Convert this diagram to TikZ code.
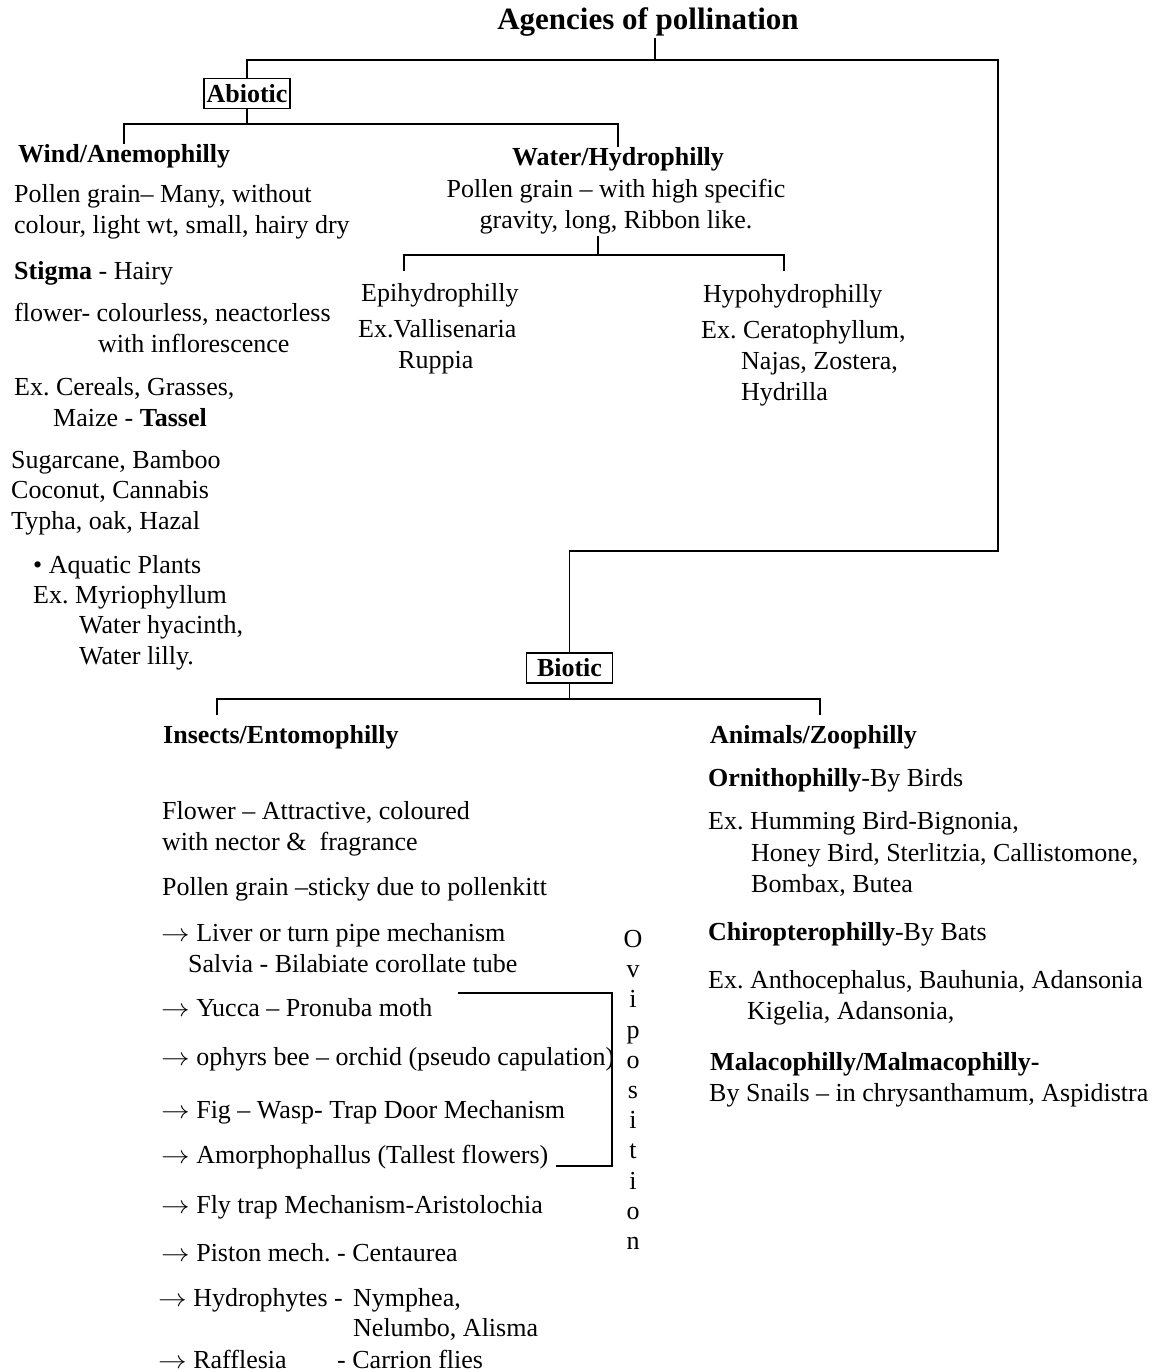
\documentclass[tikz,border=0pt]{standalone}
\usepackage{fontspec}
\setmainfont{Liberation Serif}
\usepackage{graphicx}
\usepackage{tikz}
\frenchspacing
\newcommand{\bodyfont}{\fontsize{26}{31}\selectfont}
\newcommand{\arr}{\scalebox{1.15}[1]{$\rightarrow$}}
\tikzset{txt/.style={anchor=base west, inner sep=1pt, font=\bodyfont},
 head/.style={txt, font=\bodyfont\bfseries},
 ctr/.style={txt, anchor=base},
 box/.style={draw, line width=1.5pt, inner sep=2pt, minimum width=86pt, minimum height=30pt, font=\bodyfont\bfseries},
 link/.style={draw, line width=1.5pt},
 }

\begin{document}
\begin{tikzpicture}[x=1pt, y=-1pt]
        \useasboundingbox (0,0) rectangle (1155,1372);

        % top of the tree
        \node[ctr, font=\fontsize{31}{34}\selectfont\bfseries] (title) at (648,30) {Agencies of pollination};
        \node[box] (abiotic) at (247,93.5) {Abiotic};
        \node[box] (biotic) at (569.5,668) {Biotic};
        \coordinate (top) at (655,60);
        \coordinate (rc) at (998,551);
        \draw[link] (title.south -| top) -- (top);
        \draw[link] (abiotic) |- (top) -| (rc) -| (biotic);

        % abiotic
        \node[head] (wind) at (17,163) {Wind/Anemophilly};
        \node[txt] (windA) at (13,203) {Pollen grain– Many, without};
        \node[txt] (windB) at (13,234) {colour, light wt, small, hairy dry};
        \node[txt] (stigma) at (13,279) {\textbf{Stigma} - Hairy};
        \node[txt] (flw) at (13,321) {flower- colourless, neactorless};
        \node[txt] (flwB) at (97,352) {with inflorescence};
        \node[txt] (exA) at (13,395) {Ex. Cereals, Grasses,};
        \node[txt] (exB) at (52,426) {Maize - \textbf{Tassel}};
        \node[txt] (sug) at (10,468) {Sugarcane, Bamboo};
        \node[txt] (coc) at (10,498) {Coconut, Cannabis};
        \node[txt] (typ) at (10,529) {Typha, oak, Hazal};
        \node[txt] (aqu) at (32,573) {• Aquatic Plants};
        \node[txt] (myr) at (32,603) {Ex. Myriophyllum};
        \node[txt] (hya) at (78,633) {Water hyacinth,};
        \node[txt] (lil) at (78,664) {Water lilly.};

        \node[ctr, font=\bodyfont\bfseries] (water) at (618,166) {Water/Hydrophilly};
        \node[ctr] (waterA) at (616,198) {Pollen grain – with high specific};
        \node[ctr] (waterB) at (616,229) {gravity, long, Ribbon like.};
        \coordinate (ab) at (247,124);
        \draw[link] (abiotic) -- (ab);
        \draw[link] (wind.north) |- (ab) -| (water.north);

        \node[txt] (epi) at (360,301) {Epihydrophilly};
        \node[txt] (epiA) at (357,337) {Ex.Vallisenaria};
        \node[txt] (epiB) at (397,368) {Ruppia};
        \node[txt] (hypo) at (702,302) {Hypohydrophilly};
        \node[txt] (hypoA) at (700,338) {Ex. Ceratophyllum,};
        \node[txt] (hypoB) at (740,369) {Najas, Zostera,};
        \node[txt] (hypoC) at (740,400) {Hydrilla};
        \coordinate (wb) at (598,255);
        \coordinate (el) at (404,271);
        \coordinate (hr) at (784,271);
        \draw[link] (waterB.south -| wb) -- (wb);
        \draw[link] (el) |- (wb) -| (hr);

        % biotic
        \node[head] (insect) at (162,743) {Insects/Entomophilly};
        \node[head] (anim) at (709,743) {Animals/Zoophilly};
        \coordinate (bb) at (569.5,699);
        \coordinate (il) at (217,715);
        \coordinate (ar) at (820,715);
        \draw[link] (biotic) -- (bb);
        \draw[link] (il) |- (bb) -| (ar);

        \node[txt] (flA) at (161,819) {Flower – Attractive, coloured};
        \node[txt] (flB) at (161,850) {with nector \&~ fragrance};
        \node[txt] (pg) at (161,895) {Pollen grain –sticky due to pollenkitt};
        \node[txt] (liv) at (160,941) {\arr{} Liver or turn pipe mechanism};
        \node[txt] (sal) at (187,972) {Salvia - Bilabiate corollate tube};
        \node[txt] (yuc) at (160,1016) {\arr{} Yucca – Pronuba moth};
        \node[txt] (oph) at (160,1065) {\arr{} ophyrs bee – orchid (pseudo capulation)};
        \node[txt] (fig) at (160,1118) {\arr{} Fig – Wasp- Trap Door Mechanism};
        \node[txt] (amo) at (160,1163) {\arr{} Amorphophallus (Tallest flowers)};
        \node[txt] (fly) at (160,1213) {\arr{} Fly trap Mechanism-Aristolochia};
        \node[txt] (pis) at (160,1261) {\arr{} Piston mech. - Centaurea};
        \node[txt] (hyd) at (157,1306) {\arr{} Hydrophytes -};
        \node[txt] (nym) at (352,1306) {Nymphea,};
        \node[txt] (nel) at (352,1336) {Nelumbo, Alisma};
        \node[txt] (raf) at (157,1368) {\arr{} Rafflesia};
        \node[txt] (car) at (336,1368) {- Carrion flies};

        \coordinate (brk) at (612,1080);
        \draw[link, line width=1.3pt] (458,993) -| (brk) |- (556,1166);
        \node[anchor=north, inner sep=0pt, align=center, font=\fontsize{26}{30.2}\selectfont] (ovi) at (633,930)
            {O\\v\\i\\p\\o\\s\\i\\t\\i\\o\\n};

        \node[txt] (orn) at (707,786) {\textbf{Ornithophilly}-By Birds};
        \node[txt] (ornA) at (707,829) {Ex. Humming Bird-Bignonia,};
        \node[txt] (ornB) at (750,861) {Honey Bird, Sterlitzia, Callistomone,};
        \node[txt] (ornC) at (750,892) {Bombax, Butea};
        \node[txt] (chi) at (707,940) {\textbf{Chiropterophilly}-By Bats};
        \node[txt] (chiA) at (707,988) {Ex. Anthocephalus, Bauhunia, Adansonia};
        \node[txt] (chiB) at (746,1019) {Kigelia, Adansonia,};
        \node[head] (mal) at (709,1070) {Malacophilly/Malmacophilly-};
        \node[txt] (malA) at (708,1101) {By Snails – in chrysanthamum, Aspidistra};
\end{tikzpicture}
\end{document}
